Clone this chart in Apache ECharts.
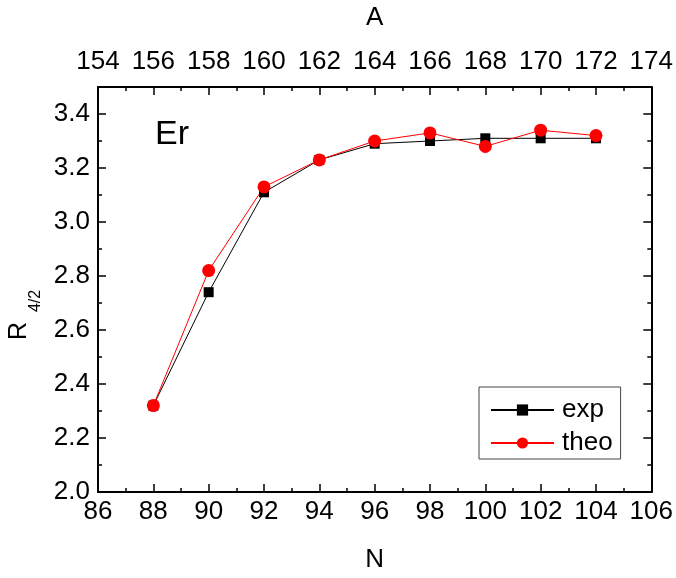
<!DOCTYPE html>
<html>
<head>
<meta charset="utf-8">
<script src="https://cdn.jsdelivr.net/npm/echarts@6/dist/echarts.min.js"></script>
<style>html,body{margin:0;padding:0;background:#fff}#c{width:676px;height:578px}</style>
</head>
<body>
<div id="c"></div>
<script>
const N = [88, 90, 92, 94, 96, 98, 100, 102, 104];
const expVals = [2.32, 2.74, 3.11, 3.23, 3.29, 3.30, 3.31, 3.31, 3.31];
const theoVals = [2.32, 2.82, 3.13, 3.23, 3.30, 3.33, 3.28, 3.34, 3.32];
const seriesNames = ['exp', 'theo'];
const elementLabel = 'Er';

const FONT = '"Liberation Sans", Arial, sans-serif';
const FS = 26;
const chart = echarts.init(document.getElementById('c'), null, {renderer: 'canvas'});
const tickCommon = {show: true, inside: true, length: 8, lineStyle: {color: '#000', width: 1.5}};
const minorCommon = {show: true, splitNumber: 2, length: 4, lineStyle: {color: '#000', width: 1.5}};
const lineCommon = {show: true, onZero: false, lineStyle: {color: '#000', width: 2}};
const labelCommon = {color: '#000', fontFamily: FONT, fontSize: FS};

chart.setOption({
  animation: false,
  backgroundColor: '#fff',
  grid: {left: 98, right: 23, top: 87, bottom: 84},
  legend: {
    left: 479, top: 387, orient: 'vertical',
    data: seriesNames,
    itemWidth: 63, itemHeight: 14, itemGap: 7,
    padding: [10, 8, 3, 11],
    borderColor: '#444', borderWidth: 1,
    textStyle: {color: '#000', fontFamily: FONT, fontSize: FS, lineHeight: 26, padding: [0, 0, 0, 3]}
  },
  xAxis: [{
    type: 'value', position: 'bottom', min: 86, max: 106, interval: 2,
    name: 'N', nameLocation: 'middle', nameGap: 55,
    nameTextStyle: {color: '#000', fontFamily: FONT, fontSize: FS},
    axisLine: lineCommon, axisTick: tickCommon, minorTick: minorCommon,
    splitLine: {show: false}, axisLabel: Object.assign({margin: 7}, labelCommon)
  }, {
    type: 'value', position: 'top', min: 154, max: 174, interval: 2,
    name: 'A', nameLocation: 'middle', nameGap: 56,
    nameTextStyle: {color: '#000', fontFamily: FONT, fontSize: FS},
    axisLine: lineCommon, axisTick: tickCommon, minorTick: minorCommon,
    splitLine: {show: false}, axisLabel: Object.assign({margin: 12}, labelCommon)
  }],
  yAxis: [{
    type: 'value', position: 'left', min: 2.0, max: 3.5, interval: 0.2,
    axisLine: lineCommon, axisTick: tickCommon, minorTick: minorCommon,
    splitLine: {show: false},
    axisLabel: Object.assign({margin: 8, showMaxLabel: false, formatter: v => v.toFixed(1)}, labelCommon)
  }, {
    type: 'value', position: 'right', min: 2.0, max: 3.5, interval: 0.2,
    axisLine: lineCommon, axisTick: tickCommon, minorTick: minorCommon,
    splitLine: {show: false}, axisLabel: {show: false}
  }],
  graphic: [
    {type: 'text', x: 155, y: 118, style: {text: elementLabel, fontFamily: FONT, fontSize: 34, fill: '#000'}},
    {type: 'text', x: 19, y: 331, rotation: Math.PI / 2,
     style: {text: 'R', fontFamily: FONT, fontSize: 25, fill: '#000', align: 'center', verticalAlign: 'middle'}},
    {type: 'text', x: 36, y: 301, rotation: Math.PI / 2,
     style: {text: '4/2', fontFamily: FONT, fontSize: 16, fill: '#000', align: 'center', verticalAlign: 'middle'}}
  ],
  series: [{
    name: seriesNames[0], type: 'line', xAxisIndex: 0, yAxisIndex: 0,
    data: N.map((n, i) => [n, expVals[i]]),
    symbol: 'rect', symbolSize: 10,
    lineStyle: {color: '#000', width: 1}, itemStyle: {color: '#000'}
  }, {
    name: seriesNames[1], type: 'line', xAxisIndex: 0, yAxisIndex: 0,
    data: N.map((n, i) => [n, theoVals[i]]),
    symbol: 'circle', symbolSize: 13,
    lineStyle: {color: '#ff0000', width: 1}, itemStyle: {color: '#ff0000'}
  }]
});
</script>
</body>
</html>
